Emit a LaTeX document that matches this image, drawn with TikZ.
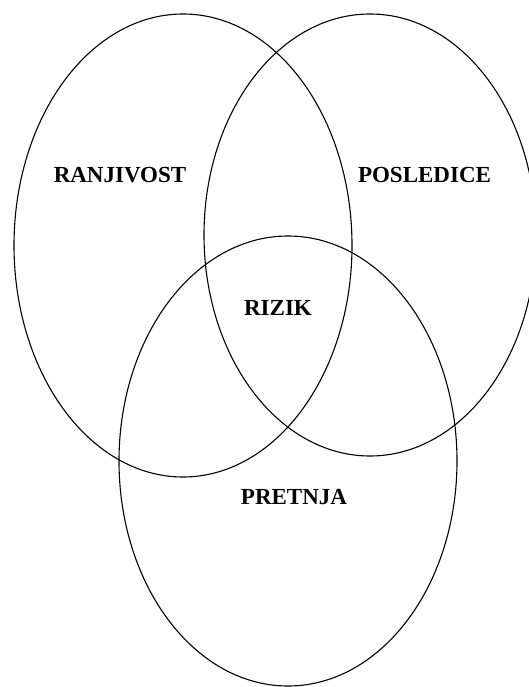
\documentclass[tikz,border=0pt]{standalone}
\usepackage{fontspec}
\setmainfont{Liberation Serif}
\usetikzlibrary{shapes.geometric}
\begin{document}
\begin{tikzpicture}[x=1pt,y=-1pt,
  set/.style={draw=black, line width=1.1pt, ellipse, inner sep=0pt, outer sep=0pt},
  lbl/.style={font=\fontsize{23}{27}\selectfont\bfseries, inner sep=0pt}]
\useasboundingbox (0,0) rectangle (529,687);
\node[set, minimum width=338pt, minimum height=463pt] (ranj) at (183,245.5) {};
\node[set, minimum width=332pt, minimum height=442pt] (posl) at (370,235) {};
\node[set, minimum width=338pt, minimum height=450pt] (pret) at (288,461) {};
\node[lbl] (t1) at (120,175) {RANJIVOST};
\node[lbl] (t2) at (424.5,175) {POSLEDICE};
\node[lbl] (t3) at (278,308) {RIZIK};
\node[lbl] (t4) at (294,497.5) {PRETNJA};
\end{tikzpicture}
\end{document}
